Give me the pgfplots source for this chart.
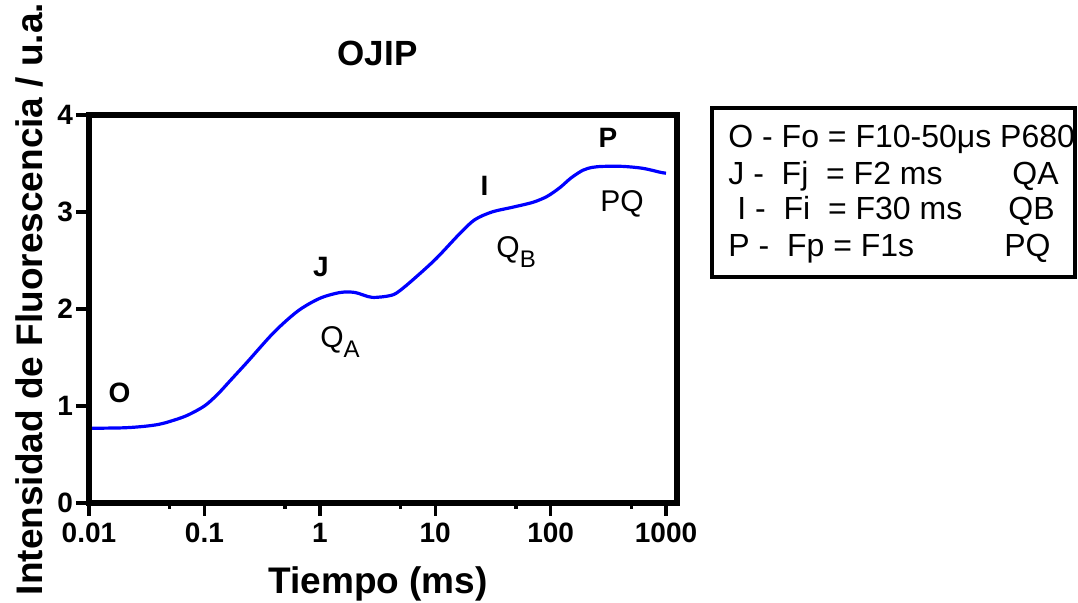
\documentclass[border=0pt]{standalone}
\usepackage{fontspec}
\setmainfont{Liberation Sans}
\usepackage{pgfplots}
\pgfplotsset{compat=1.18}

% OJIP chlorophyll fluorescence transient (time in ms, log scale)
\pgfplotstableread{
t      F
0.01   0.77
0.02   0.775
0.03   0.79
0.04   0.81
0.05   0.84
0.07   0.90
0.1    1.00
0.13   1.12
0.17   1.27
0.234  1.45
0.401  1.76
0.647  1.98
1.0    2.11
1.5    2.17
2.02   2.17
2.83   2.12
4.14   2.14
4.95   2.19
6.68   2.32
10.2   2.52
16.4   2.78
22.0   2.92
31.0   3.00
47.2   3.05
70.3   3.10
93     3.16
120    3.25
150    3.35
190    3.43
230    3.46
284    3.47
424    3.47
632    3.45
888    3.41
1000   3.40
}\ojip

\begin{document}
\begin{tikzpicture}
\useasboundingbox (0,0) rectangle (539pt,301.5pt);

\begin{axis}[
  name=ax,
  at={(44.5pt,50pt)}, anchor=south west,
  scale only axis, width=294pt, height=194pt,
  xmode=log, xmin=0.01, xmax=1245, ymin=0, ymax=4,
  tick pos=left, tick align=outside,
  tick style={black, line width=1.7pt},
  major tick length=6.5pt, minor tick length=3pt,
  xtick={0.01,0.1,1,10,100,1000},
  xticklabels={0.01,0.1,1,10,100,1000},
  minor xtick={0.05,0.5,5,50,500},
  ytick={0,1,2,3,4},
  yticklabels={0,1,2,3,4},
  ticklabel style={font=\fontsize{14}{16}\selectfont\bfseries},
  yticklabel style={xshift=2pt},
  clip=false,
]
\addplot[blue, line width=1.6pt, smooth] table[x=t, y=F] {\ojip};

% phase labels
\begin{scope}[font=\fontsize{14}{16}\selectfont\bfseries, inner sep=0pt]
\node[anchor=base] at (axis cs:0.01837,1.031) {O};
\node[anchor=base] at (axis cs:1.024,2.33) {J};
\node[anchor=base] at (axis cs:26.7,3.175) {I};
\node[anchor=base] at (axis cs:314,3.67) {P};
\end{scope}
\begin{scope}[font=\fontsize{15}{17}\selectfont, inner sep=0pt]
\node[anchor=base west] at (axis cs:1.004,1.608) {Q\raisebox{-5pt}{\fontsize{12}{13}\selectfont A}};
\node[anchor=base west] at (axis cs:33.7,2.526) {Q\raisebox{-5pt}{\fontsize{12}{13}\selectfont B}};
\node[anchor=base west] at (axis cs:268,3.01) {PQ};
\end{scope}
\end{axis}

% heavy frame round the plot area
\draw[line width=3pt, line join=miter] (ax.south west) rectangle (ax.north east);

% title and axis labels
\node[anchor=base, font=\fontsize{17.5}{20}\selectfont\bfseries] at (188.75pt,268.5pt) {OJIP};
\node[anchor=base, font=\fontsize{18.5}{21}\selectfont\bfseries] at (189pt,4.5pt) {Tiempo (ms)};
\node[anchor=base, rotate=90, font=\fontsize{18.5}{21}\selectfont\bfseries] at (21pt,152pt) {Intensidad de Fluorescencia / u.a.};

% key box
\draw[line width=1.6pt] (356pt,163pt) rectangle (537.5pt,247.5pt);
\begin{scope}[font=\fontsize{16}{18}\selectfont, inner sep=0pt]
\node[anchor=base west] at (364pt,227.5pt) {O - Fo = F10-50μs P680};
\node[anchor=base west] at (364pt,209pt) {J -\ \ Fj\ \ = F2 ms};
\node[anchor=base west] at (506pt,209pt) {QA};
\node[anchor=base west] at (368.5pt,191.5pt) {I -\ \ Fi\ \ = F30 ms};
\node[anchor=base west] at (504pt,191.5pt) {QB};
\node[anchor=base west] at (364pt,173pt) {P -\ \ Fp = F1s};
\node[anchor=base west] at (502pt,173pt) {PQ};
\end{scope}
\end{tikzpicture}
\end{document}
